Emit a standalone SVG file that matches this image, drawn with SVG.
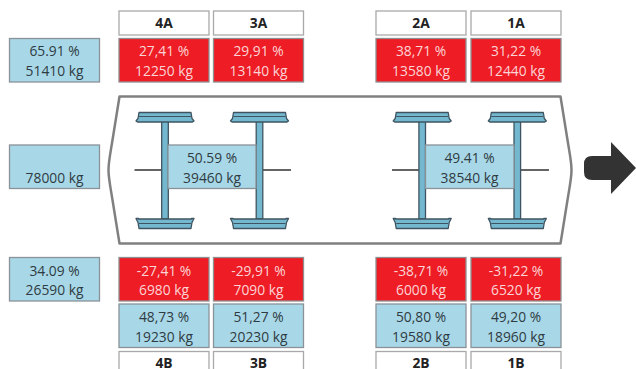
<svg xmlns="http://www.w3.org/2000/svg" width="636" height="369" viewBox="0 0 636 369">
<style>
text{font-family:"Open Sans","Noto Sans","Liberation Sans",sans-serif;font-size:13.800px;text-anchor:middle}
.h rect{fill:#fff;stroke:#a9a9a9;stroke-width:1.3}
.h text{font-weight:700;fill:#222}
.r rect{fill:#ee1c25;stroke:#8f8f8f;stroke-width:1.3}
.r text{fill:#fbd5d5}
.b rect{fill:#a8d8e8;stroke:#8a9298;stroke-width:1.3}
.b text{fill:#2f3b42}
.beam{fill:#74b8d0;stroke:#3f5460;stroke-width:1.3;stroke-linejoin:round}
.ax{stroke:#333;stroke-width:1.3;fill:none}
</style>
<defs>
<g id="axle">
<path class="beam" d="M-3.300 9H3.300V107H-3.300Z"/>
<path class="beam" d="M-26 0.500H26L27 6.500L29 9L27.500 10H-27.500L-29 9L-27 6.500Z"/>
<path d="M-26 4.500H26" stroke="#3f5460" stroke-width="1"/>
<path class="beam" d="M-29 106.500L-26.500 106.500V107H26.500V106.500L29 106.500L27 110.500L26 116.500H-26L-27 110.500Z"/>
<path d="M-26 111.500H26" stroke="#3f5460" stroke-width="1"/>
</g>
</defs>
<g id="connectors">
<path d="M119.500 96.500H560.500L567.500 140C570 155.500 571.500 162 571.500 170C571.500 178 570 184.500 567.500 200L560.500 243.500H119.500L112.500 200C110 184.500 108.500 178 108.500 170C108.500 162 110 155.500 112.500 140Z" fill="#fff" stroke="#808080" stroke-width="2.500" stroke-linejoin="round"/>
<path class="ax" d="M134.500 170H161M263 170H291M392 170H419M521 170H549"/>
<path d="M592 156H611V142L636 168L611 194V180H592Q584 180 584 172V164Q584 156 592 156Z" fill="#333"/>
</g>
<g id="axle-4"><use href="#axle" x="165" y="112"/></g>
<g id="axle-3"><use href="#axle" x="259.500" y="112"/></g>
<g id="axle-2"><use href="#axle" x="422.200" y="112"/></g>
<g id="axle-1"><use href="#axle" x="517.300" y="112"/></g>
<g id="left-top" class="b"><rect x="9.500" y="38.500" width="90" height="43.500"/><text x="54.500" y="56">65.91 %</text><text x="54.500" y="76">51410 kg</text></g>
<g id="left-mid" class="b"><rect x="9.500" y="145" width="90" height="43.500"/><text x="54.500" y="183">78000 kg</text></g>
<g id="left-bot" class="b"><rect x="9.500" y="257.500" width="90" height="43.500"/><text x="54.500" y="276">34.09 %</text><text x="54.500" y="295">26590 kg</text></g>
<g id="center-left" class="b"><rect x="168" y="145" width="88" height="43.500"/><text x="212" y="163">50.59 %</text><text x="212" y="183">39460 kg</text></g>
<g id="center-right" class="b"><rect x="425.500" y="145" width="88.500" height="43.500"/><text x="469.500" y="163">49.41 %</text><text x="469.500" y="183">38540 kg</text></g>
<g id="h4A" class="h"><rect x="119" y="11" width="90" height="24"/><text x="164" y="28">4A</text></g>
<g id="h3A" class="h"><rect x="213.500" y="11" width="90" height="24"/><text x="258.500" y="28">3A</text></g>
<g id="h2A" class="h"><rect x="376" y="11" width="90" height="24"/><text x="421" y="28">2A</text></g>
<g id="h1A" class="h"><rect x="471" y="11" width="90" height="24"/><text x="516" y="28">1A</text></g>
<g id="r4A" class="r"><rect x="119" y="38.500" width="90" height="43.500"/><text x="164" y="56">27,41 %</text><text x="164" y="76">12250 kg</text></g>
<g id="r3A" class="r"><rect x="213.500" y="38.500" width="90" height="43.500"/><text x="258.500" y="56">29,91 %</text><text x="258.500" y="76">13140 kg</text></g>
<g id="r2A" class="r"><rect x="376" y="38.500" width="90" height="43.500"/><text x="421" y="56">38,71 %</text><text x="421" y="76">13580 kg</text></g>
<g id="r1A" class="r"><rect x="471" y="38.500" width="90" height="43.500"/><text x="516" y="56">31,22 %</text><text x="516" y="76">12440 kg</text></g>
<g id="r4B" class="r"><rect x="119" y="257.500" width="90" height="43.500"/><text x="164" y="276">-27,41 %</text><text x="164" y="295">6980 kg</text></g>
<g id="r3B" class="r"><rect x="213.500" y="257.500" width="90" height="43.500"/><text x="258.500" y="276">-29,91 %</text><text x="258.500" y="295">7090 kg</text></g>
<g id="r2B" class="r"><rect x="376" y="257.500" width="90" height="43.500"/><text x="421" y="276">-38,71 %</text><text x="421" y="295">6000 kg</text></g>
<g id="r1B" class="r"><rect x="471" y="257.500" width="90" height="43.500"/><text x="516" y="276">-31,22 %</text><text x="516" y="295">6520 kg</text></g>
<g id="b4B" class="b"><rect x="119" y="304" width="90" height="43.500"/><text x="164" y="322">48,73 %</text><text x="164" y="342">19230 kg</text></g>
<g id="b3B" class="b"><rect x="213.500" y="304" width="90" height="43.500"/><text x="258.500" y="322">51,27 %</text><text x="258.500" y="342">20230 kg</text></g>
<g id="b2B" class="b"><rect x="376" y="304" width="90" height="43.500"/><text x="421" y="322">50,80 %</text><text x="421" y="342">19580 kg</text></g>
<g id="b1B" class="b"><rect x="471" y="304" width="90" height="43.500"/><text x="516" y="322">49,20 %</text><text x="516" y="342">18960 kg</text></g>
<g id="h4B" class="h"><rect x="119" y="351.500" width="90" height="24"/><text x="164" y="367.500">4B</text></g>
<g id="h3B" class="h"><rect x="213.500" y="351.500" width="90" height="24"/><text x="258.500" y="367.500">3B</text></g>
<g id="h2B" class="h"><rect x="376" y="351.500" width="90" height="24"/><text x="421" y="367.500">2B</text></g>
<g id="h1B" class="h"><rect x="471" y="351.500" width="90" height="24"/><text x="516" y="367.500">1B</text></g>
</svg>
